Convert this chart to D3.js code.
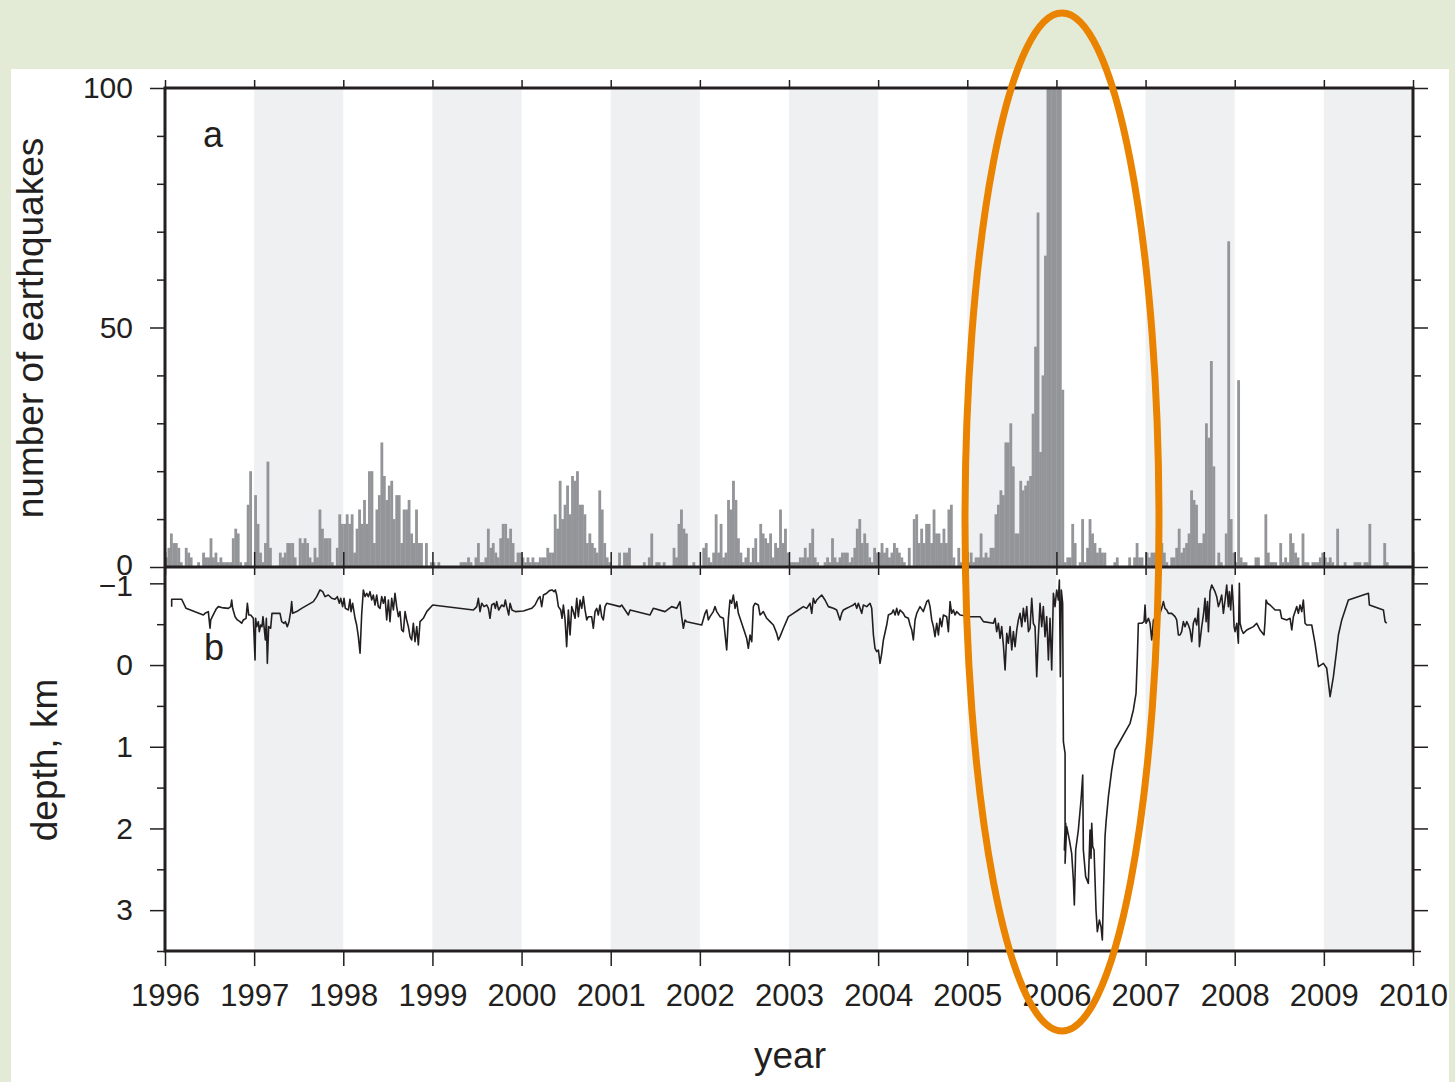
<!DOCTYPE html>
<html><head><meta charset="utf-8">
<script src="https://cdn.jsdelivr.net/npm/d3@7"></script>
<style>
body{margin:0;background:#e3ebd6;}
svg{display:block;}
text{font-family:"Liberation Sans",Arial,Helvetica,sans-serif;fill:#231f20;}
</style></head><body>
<svg id="c" width="1455" height="1082"></svg>
<script>
// ---------- DATA ----------
const baseYear = 1996;
const yearTicks = [1996,1997,1998,1999,2000,2001,2002,2003,2004,2005,2006,2007,2008,2009,2010];
const shadedYears = [1997,1999,2001,2003,2005,2007,2009];
const countTicks = [0,50,100];
const countMinor = [10,20,30,40,60,70,80,90];
const depthTicks = [-1,0,1,2,3];
const depthMinor = [-0.5,0.5,1.5,2.5,3.5];
const binsPerYear = 36;   // ~10-day bins

// earthquakes per bin, one array per year
const q1996 = [2,4,7,5,5,4,1,0,4,3,2,0,0,1,0,3,2,2,6,2,3,1,2,1,1,1,1,6,8,7,1,0,1,13,20,0];
const q1997 = [15,9,3,1,5,22,4,0,0,0,3,2,3,5,5,5,2,0,6,5,6,5,2,1,4,2,12,8,6,6,6,1,0,4,11,9];
const q1998 = [9,11,9,11,3,8,12,9,14,9,20,20,5,12,15,26,19,14,17,18,10,15,15,5,12,12,14,7,5,12,5,5,0,5,0,1];
const q1999 = [1,0,1,0,0,0,0,0,0,0,0,1,1,1,2,1,0,2,5,1,1,2,8,4,5,3,2,6,9,9,6,8,5,1,3,3];
const q2000 = [2,1,2,1,2,1,1,2,2,2,4,3,3,11,8,18,10,13,17,11,19,18,20,13,13,11,5,7,5,4,3,16,12,5,2,1];
const q2001 = [0,0,0,3,0,3,3,4,0,0,0,0,0,1,0,2,7,0,1,1,0,1,0,0,0,4,2,9,12,8,7,0,0,1,0,0];
const q2002 = [0,4,5,2,1,3,11,3,9,2,3,14,12,18,14,6,3,1,2,4,1,4,6,1,9,7,6,5,7,2,5,4,12,5,8,3];
const q2003 = [1,1,1,1,2,2,4,2,5,8,2,1,0,0,1,2,1,6,2,1,2,3,3,3,1,2,4,8,10,5,7,5,2,1,4,3];
const q2004 = [3,5,3,4,2,3,5,4,3,2,1,0,4,0,10,11,5,8,5,9,9,5,12,7,7,5,8,5,12,13,2,0,4,1,2,2];
const q2005 = [1,3,1,2,2,7,2,3,2,4,4,11,13,16,15,26,26,30,21,7,7,18,16,17,18,19,32,46,74,24,40,65,100,100,100,100];
const q2006 = [100,100,37,1,2,2,9,5,0,1,10,1,4,10,7,5,3,4,3,3,0,0,0,1,2,0,0,0,0,2,0,2,5,2,2,0];
const q2007 = [3,2,3,3,3,2,5,3,1,0,2,2,4,8,3,4,5,7,16,14,13,5,5,7,30,27,43,21,0,3,1,0,7,68,10,3];
const q2008 = [1,39,2,1,1,0,0,0,2,2,0,0,11,3,1,1,1,0,5,1,2,1,7,5,3,2,0,7,1,1,0,1,1,1,2,3];
const q2009 = [2,1,2,1,0,8,0,0,1,0,0,0,1,1,1,0,1,1,9,0,0,0,0,0,5,1,0,0,0,0,0,0,0,0,0,0];
const barYears = [1996,1997,1998,1999,2000,2001,2002,2003,2004,2005,2006,2007,2008,2009];
const counts = [q1996,q1997,q1998,q1999,q2000,q2001,q2002,q2003,q2004,q2005,q2006,q2007,q2008,q2009];

// depth (km) : [years after 1996-01-01, depth]
const depthA = [[0.075,-0.715],[0.075,-0.805],[0.187,-0.805],[0.236,-0.694],[0.430,-0.613],[0.449,-0.633],[0.486,-0.654],[0.505,-0.450],[0.513,-0.552],[0.572,-0.682],[0.598,-0.715],[0.636,-0.703],[0.710,-0.694],[0.737,-0.715],[0.748,-0.796],[0.759,-0.694],[0.786,-0.592],[0.812,-0.552],[0.841,-0.531],[0.860,-0.511],[0.879,-0.552],[0.909,-0.572],[0.924,-0.756],[0.939,-0.613],[0.961,-0.613],[0.991,-0.572],[1.010,-0.062],[1.017,-0.572],[1.028,-0.470],[1.047,-0.531],[1.058,-0.409],[1.073,-0.490],[1.088,-0.470],[1.099,-0.592],[1.111,-0.470],[1.126,-0.307],[1.137,-0.572],[1.148,-0.021],[1.163,-0.470],[1.185,-0.450],[1.200,-0.633],[1.290,-0.633],[1.309,-0.531],[1.335,-0.511],[1.350,-0.531],[1.372,-0.470],[1.391,-0.531],[1.410,-0.654],[1.421,-0.776],[1.432,-0.633],[1.477,-0.654],[1.533,-0.694],[1.664,-0.776],[1.702,-0.837],[1.739,-0.919],[1.769,-0.898],[1.795,-0.837],[1.832,-0.857],[1.870,-0.817],[1.907,-0.805],[1.933,-0.837],[1.956,-0.756],[1.971,-0.817],[1.993,-0.715],[2.008,-0.817],[2.023,-0.694],[2.057,-0.674],[2.075,-0.805],[2.087,-0.654],[2.105,-0.756],[2.132,-0.572],[2.150,-0.490],[2.169,-0.348],[2.188,-0.144],[2.206,-0.613],[2.225,-0.919],[2.244,-0.837],[2.263,-0.878],[2.281,-0.837],[2.300,-0.898],[2.319,-0.796],[2.337,-0.857],[2.356,-0.735],[2.375,-0.857],[2.393,-0.715],[2.412,-0.694],[2.431,-0.837],[2.450,-0.756],[2.468,-0.837],[2.487,-0.552],[2.506,-0.796],[2.524,-0.531],[2.543,-0.817],[2.562,-0.674],[2.580,-0.878],[2.599,-0.715],[2.618,-0.592],[2.636,-0.654],[2.655,-0.429],[2.674,-0.409],[2.693,-0.654],[2.711,-0.552],[2.730,-0.470],[2.749,-0.348],[2.767,-0.307],[2.786,-0.511],[2.805,-0.286],[2.824,-0.470],[2.842,-0.246],[2.861,-0.531],[2.898,-0.572],[2.936,-0.654],[3.003,-0.735],[3.459,-0.674],[3.478,-0.694],[3.497,-0.715],[3.515,-0.817],[3.534,-0.654],[3.553,-0.756],[3.579,-0.715],[3.609,-0.735],[3.628,-0.694],[3.646,-0.572],[3.665,-0.735],[3.691,-0.756],[3.706,-0.694],[3.721,-0.776],[3.743,-0.674],[3.777,-0.735],[3.803,-0.715],[3.818,-0.796],[3.833,-0.715],[3.856,-0.613],[3.871,-0.756],[3.893,-0.674],[3.930,-0.654],[4.020,-0.662],[4.114,-0.694],[4.151,-0.735],[4.188,-0.817],[4.207,-0.837],[4.226,-0.715],[4.245,-0.857],[4.282,-0.878],[4.312,-0.911],[4.342,-0.919],[4.364,-0.898],[4.379,-0.919],[4.394,-0.857],[4.413,-0.715],[4.439,-0.674],[4.454,-0.572],[4.469,-0.735],[4.488,-0.552],[4.506,-0.225],[4.525,-0.674],[4.544,-0.368],[4.563,-0.715],[4.581,-0.654],[4.600,-0.572],[4.619,-0.817],[4.637,-0.592],[4.656,-0.796],[4.675,-0.694],[4.693,-0.837],[4.712,-0.674],[4.731,-0.552],[4.749,-0.592],[4.786,-0.592],[4.805,-0.450],[4.824,-0.654],[4.843,-0.694],[4.861,-0.613],[4.880,-0.735],[4.899,-0.592],[4.917,-0.552],[4.936,-0.715],[4.955,-0.756]];
const depthB = [[5.104,-0.715],[5.123,-0.735],[5.198,-0.613],[5.217,-0.674],[5.441,-0.613],[5.478,-0.694],[5.609,-0.654],[5.684,-0.715],[5.740,-0.694],[5.777,-0.776],[5.796,-0.592],[5.815,-0.450],[5.834,-0.552],[5.852,-0.531],[6.021,-0.490],[6.058,-0.633],[6.077,-0.674],[6.095,-0.552],[6.114,-0.592],[6.151,-0.654],[6.170,-0.715],[6.189,-0.654],[6.226,-0.592],[6.264,-0.572],[6.301,-0.184],[6.320,-0.572],[6.338,-0.796],[6.357,-0.756],[6.376,-0.857],[6.395,-0.694],[6.413,-0.776],[6.432,-0.633],[6.451,-0.572],[6.488,-0.450],[6.525,-0.327],[6.544,-0.205],[6.563,-0.368],[6.582,-0.286],[6.600,-0.715],[6.619,-0.756],[6.656,-0.735],[6.675,-0.613],[6.694,-0.633],[6.712,-0.654],[6.750,-0.572],[6.787,-0.531],[6.825,-0.490],[6.862,-0.388],[6.881,-0.307],[6.899,-0.348],[6.937,-0.450],[6.993,-0.592],[7.049,-0.633],[7.105,-0.674],[7.161,-0.715],[7.199,-0.694],[7.236,-0.756],[7.255,-0.633],[7.273,-0.817],[7.292,-0.756],[7.311,-0.796],[7.330,-0.817],[7.367,-0.857],[7.404,-0.796],[7.442,-0.715],[7.498,-0.694],[7.535,-0.674],[7.572,-0.552],[7.591,-0.633],[7.610,-0.674],[7.647,-0.694],[7.685,-0.715],[7.722,-0.735],[7.741,-0.756],[7.760,-0.694],[7.778,-0.756],[7.816,-0.633],[7.834,-0.735],[7.872,-0.715],[7.909,-0.756],[7.928,-0.694],[7.947,-0.368],[7.965,-0.205],[7.984,-0.164],[8.003,-0.184],[8.021,-0.021],[8.040,-0.144],[8.059,-0.307],[8.096,-0.490],[8.115,-0.613],[8.152,-0.633],[8.171,-0.674],[8.190,-0.613],[8.208,-0.694],[8.227,-0.613],[8.246,-0.674],[8.283,-0.633],[8.302,-0.592],[8.339,-0.572],[8.358,-0.490],[8.377,-0.429],[8.395,-0.307],[8.414,-0.552],[8.433,-0.633],[8.451,-0.674],[8.470,-0.715],[8.507,-0.654],[8.545,-0.776],[8.564,-0.796],[8.582,-0.715],[8.601,-0.552],[8.620,-0.470],[8.638,-0.348],[8.657,-0.511],[8.676,-0.368],[8.694,-0.572],[8.713,-0.470],[8.732,-0.613],[8.769,-0.592],[8.788,-0.409],[8.807,-0.776],[8.825,-0.633],[8.844,-0.674],[8.863,-0.613],[8.881,-0.654],[8.919,-0.613],[9.031,-0.592],[9.143,-0.592],[9.181,-0.531],[9.293,-0.511],[9.312,-0.572],[9.330,-0.409],[9.349,-0.511],[9.368,-0.327],[9.386,-0.470],[9.405,-0.246],[9.424,0.060],[9.443,-0.388],[9.461,-0.266],[9.480,-0.470],[9.499,-0.184],[9.517,-0.409],[9.536,-0.225],[9.555,-0.429],[9.573,-0.552],[9.592,-0.633],[9.611,-0.470],[9.629,-0.694],[9.648,-0.531],[9.667,-0.715],[9.686,-0.409],[9.704,-0.450],[9.723,-0.817],[9.741,-0.511],[9.760,-0.470],[9.779,0.142],[9.797,-0.348],[9.816,-0.756],[9.835,-0.470],[9.853,-0.715],[9.872,-0.348],[9.891,-0.592],[9.910,-0.062],[9.928,-0.572],[9.947,0.060],[9.966,-0.878]];
const depthC = [[9.984,-0.715],[10.003,-0.919],[10.022,-0.796],[10.033,-1.041],[10.044,0.142],[10.055,-0.919],[10.070,-0.756],[10.078,0.938],[10.097,1.081],[10.097,1.978],[10.089,2.264],[10.104,1.937],[10.097,2.427],[10.115,1.978],[10.145,2.141],[10.171,2.305],[10.190,2.631],[10.201,2.937],[10.216,2.264],[10.246,2.019],[10.276,1.652],[10.295,1.346],[10.302,2.264],[10.328,2.590],[10.358,2.672],[10.377,2.019],[10.388,2.366],[10.396,1.937],[10.407,2.223],[10.422,2.264],[10.444,2.998],[10.459,3.263],[10.482,3.121],[10.500,3.202],[10.515,3.365],[10.527,2.835],[10.545,2.101],[10.557,1.917],[10.583,1.611],[10.620,1.285],[10.657,1.040],[10.826,0.713],[10.863,0.550],[10.893,0.346],[10.908,-0.103],[10.919,-0.511],[10.957,-0.511],[10.983,-0.531],[10.994,-0.735],[11.005,-0.511],[11.032,-0.572],[11.050,-0.511],[11.069,-0.307],[11.088,-0.552],[11.106,-0.572],[11.125,-0.511],[11.155,-0.613],[11.181,-0.694],[11.200,-0.776],[11.218,-0.694],[11.237,-0.674],[11.256,-0.633],[11.293,-0.633],[11.331,-0.592],[11.349,-0.552],[11.368,-0.368],[11.387,-0.368],[11.405,-0.409],[11.424,-0.531],[11.443,-0.470],[11.462,-0.531],[11.480,-0.490],[11.499,-0.429],[11.518,-0.286],[11.536,-0.511],[11.555,-0.572],[11.574,-0.490],[11.593,-0.694],[11.604,-0.225],[11.630,-0.470],[11.649,-0.613],[11.667,-0.817],[11.679,-0.531],[11.694,-0.776],[11.705,-0.409],[11.723,-0.898],[11.742,-0.980],[11.761,-0.939],[11.779,-0.898],[11.798,-0.837],[11.817,-0.715],[11.835,-0.776],[11.854,-0.857],[11.873,-0.633],[11.892,-0.796],[11.910,-0.980],[11.929,-0.715],[11.940,-0.898],[11.955,-0.674],[11.970,-0.980],[11.985,-0.715],[11.993,-0.470],[12.004,-0.409],[12.023,-0.511],[12.041,-0.266],[12.052,-1.000],[12.060,-0.511],[12.079,-0.429],[12.097,-0.388],[12.135,-0.429],[12.210,-0.470],[12.247,-0.511],[12.284,-0.429],[12.329,-0.368],[12.340,-0.531],[12.352,-0.796],[12.367,-0.756],[12.397,-0.735],[12.453,-0.674],[12.509,-0.674],[12.527,-0.572],[12.583,-0.552],[12.621,-0.572],[12.640,-0.429],[12.658,-0.592],[12.696,-0.715],[12.714,-0.633],[12.733,-0.735],[12.752,-0.654],[12.770,-0.796],[12.789,-0.511],[12.808,-0.490],[12.864,-0.490],[12.901,-0.266],[12.939,0.020],[12.995,-0.021],[13.032,0.040],[13.070,0.387],[13.107,0.142],[13.144,-0.184],[13.163,-0.368],[13.201,-0.552],[13.275,-0.796],[13.500,-0.878],[13.511,-0.735],[13.668,-0.674],[13.687,-0.531],[13.705,-0.511]];

// ---------- DRAW ----------
const ink = "#231f20";
const svg = d3.select("#c");
svg.append("rect").attr("width",1455).attr("height",1082).attr("fill","#e3ebd6");
svg.append("rect").attr("x",11).attr("y",69).attr("width",1438).attr("height",1013).attr("fill","#ffffff");

const L = 165, R = 1413, T = 88, M = 567, B = 951;
const x = d3.scaleLinear().domain([yearTicks[0], yearTicks[yearTicks.length-1]]).range([L,R]);
const yC = d3.scaleLinear().domain([0,100]).range([M,T]);
const yD = d3.scaleLinear().domain([-1.2,3.5]).range([M,B]);

// shaded years
svg.append("g").selectAll("rect").data(shadedYears).join("rect")
  .attr("x",d=>x(d)).attr("width",d=>x(d+1)-x(d))
  .attr("y",T).attr("height",B-T).attr("fill","#eff0f2");

// bars
const bars = [];
barYears.forEach((yr,k)=>counts[k].forEach((v,i)=>{ if(v>0) bars.push({t:yr+i/binsPerYear, v:v}); }));
svg.append("g").selectAll("rect").data(bars).join("rect")
  .attr("x",d=>x(d.t)).attr("width",d=>x(d.t+1/binsPerYear)-x(d.t)+0.35)
  .attr("y",d=>yC(Math.min(d.v,100))).attr("height",d=>yC(0)-yC(Math.min(d.v,100)))
  .attr("fill","#939598");

// depth line
svg.append("clipPath").attr("id","clipD").append("rect").attr("x",L).attr("y",M).attr("width",R-L).attr("height",B-M);
const depth = depthA.concat(depthB, depthC);
svg.append("path").datum(depth).attr("clip-path","url(#clipD)")
  .attr("fill","none").attr("stroke",ink).attr("stroke-width",1.6).attr("stroke-linejoin","round")
  .attr("d", d3.line().x(d=>x(baseYear+d[0])).y(d=>yD(d[1])));

// axes helper
function style(g, fs){
  g.select(".domain").remove();
  g.selectAll(".tick line").attr("stroke",ink).attr("stroke-width",1.5);
  g.attr("font-family","'Liberation Sans',Arial,sans-serif").attr("font-size",fs);
  g.selectAll(".tick text").attr("fill",ink);
}
const intFmt = d3.format("d");
// left
const gLC = svg.append("g").attr("transform",`translate(${L},0)`).call(d3.axisLeft(yC).tickValues(countTicks).tickSize(15).tickPadding(17).tickFormat(intFmt)).call(style,30);
gLC.selectAll(".tick text").filter(d=>d===0).attr("dy","0.24em");
svg.append("g").attr("transform",`translate(${L},0)`).call(d3.axisLeft(yC).tickValues(countMinor).tickSize(8).tickFormat("")).call(style,30);
const gLD = svg.append("g").attr("transform",`translate(${L},0)`).call(d3.axisLeft(yD).tickValues(depthTicks).tickSize(15).tickPadding(17).tickFormat(intFmt)).call(style,30);
gLD.selectAll(".tick text").filter(d=>d===-1).attr("dy","0.42em");
svg.append("g").attr("transform",`translate(${L},0)`).call(d3.axisLeft(yD).tickValues(depthMinor).tickSize(8).tickFormat("")).call(style,30);
// right
svg.append("g").attr("transform",`translate(${R},0)`).call(d3.axisRight(yC).tickValues(countTicks).tickSize(15).tickFormat("")).call(style,30);
svg.append("g").attr("transform",`translate(${R},0)`).call(d3.axisRight(yC).tickValues(countMinor).tickSize(8).tickFormat("")).call(style,30);
svg.append("g").attr("transform",`translate(${R},0)`).call(d3.axisRight(yD).tickValues(depthTicks).tickSize(15).tickFormat("")).call(style,30);
svg.append("g").attr("transform",`translate(${R},0)`).call(d3.axisRight(yD).tickValues(depthMinor).tickSize(8).tickFormat("")).call(style,30);
// top, middle, bottom
svg.append("g").attr("transform",`translate(0,${T})`).call(d3.axisTop(x).tickValues(yearTicks).tickSize(8).tickFormat("")).call(style,30);
svg.append("g").attr("transform",`translate(0,${M})`).call(d3.axisTop(x).tickValues(yearTicks).tickSize(15).tickFormat("")).call(style,30);
svg.append("g").attr("transform",`translate(0,${M})`).call(d3.axisBottom(x).tickValues(yearTicks).tickSize(8).tickFormat("")).call(style,30);
svg.append("g").attr("transform",`translate(0,${B})`).call(d3.axisBottom(x).tickValues(yearTicks).tickSize(15).tickPadding(18).tickFormat(intFmt)).call(style,31);

// frame
svg.append("rect").attr("x",L).attr("y",T).attr("width",R-L).attr("height",B-T)
  .attr("fill","none").attr("stroke",ink).attr("stroke-width",3);
svg.append("line").attr("x1",L).attr("x2",R).attr("y1",M).attr("y2",M).attr("stroke",ink).attr("stroke-width",3);

// labels
svg.append("text").attr("x",213).attr("y",147).attr("text-anchor","middle").attr("font-size",36).text("a");
svg.append("text").attr("x",214).attr("y",660).attr("text-anchor","middle").attr("font-size",36).text("b");
svg.append("text").attr("transform","translate(43,328) rotate(-90)").attr("text-anchor","middle").attr("font-size",37).text("number of earthquakes");
svg.append("text").attr("transform","translate(57,760) rotate(-90)").attr("text-anchor","middle").attr("font-size",37).text("depth, km");
svg.append("text").attr("x",790).attr("y",1068).attr("text-anchor","middle").attr("font-size",37).text("year");

// highlight ellipse
svg.append("ellipse").attr("cx",1062).attr("cy",522).attr("rx",97).attr("ry",509)
  .attr("fill","none").attr("stroke","#e98300").attr("stroke-width",7);
</script>
</body></html>
